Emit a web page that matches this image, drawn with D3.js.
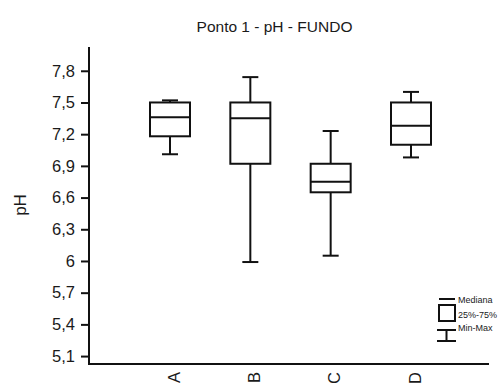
<!DOCTYPE html>
<html>
<head>
<meta charset="utf-8">
<script src="https://cdn.jsdelivr.net/npm/d3@7"></script>
<style>
  html, body { margin: 0; padding: 0; background: #fff; }
  svg { display: block; }
  text { font-family: "Liberation Sans", Arial, sans-serif; fill: #1a1a1a; }
</style>
</head>
<body>
<svg id="chart" width="500" height="383"></svg>
<script>
// Box-plot summary per sampling site (pH, bottom water)
const categories = ["A", "B", "C", "D"];
const minValues    = [7.01, 5.99, 6.05, 6.98];
const q1Values     = [7.18, 6.92, 6.65, 7.10];
const medianValues = [7.36, 7.35, 6.75, 7.28];
const q3Values     = [7.50, 7.50, 6.92, 7.50];
const maxValues    = [7.52, 7.74, 7.23, 7.60];

const yTickValues = [5.1, 5.4, 5.7, 6.0, 6.3, 6.6, 6.9, 7.2, 7.5, 7.8];
const yTickLabels = ["5,1", "5,4", "5,7", "6", "6,3", "6,6", "6,9", "7,2", "7,5", "7,8"];

const legendLabels = ["Mediana", "25%-75%", "Min-Max"];

const svg = d3.select("#chart");
const ink = "#111";

const plotLeft = 89, plotRight = 489, plotTop = 47, plotBottom = 364;

const x = d3.scalePoint().domain(categories).range([170, 411]);
const y = d3.scaleLinear().domain([5.025, 8.025]).range([plotBottom, plotTop]);

const boxW = 40, capW = 16;

// Title
svg.append("text")
  .attr("x", 274.5).attr("y", 31.5)
  .attr("text-anchor", "middle")
  .style("font-size", "15.5px")
  .text("Ponto 1 - pH - FUNDO");

// Y axis
const yAxis = d3.axisLeft(y)
  .tickValues(yTickValues)
  .tickFormat((d, i) => yTickLabels[i])
  .tickSize(8)
  .tickPadding(6)
  .tickSizeOuter(0);

const gy = svg.append("g").attr("transform", `translate(${plotLeft},0)`).call(yAxis);
gy.select(".domain").remove();
gy.selectAll(".tick line").attr("stroke", ink).attr("stroke-width", 2);
gy.selectAll(".tick text").style("font-size", "16.5px").attr("fill", "#1a1a1a");
svg.append("line")
  .attr("x1", plotLeft).attr("x2", plotLeft).attr("y1", plotTop).attr("y2", plotBottom + 1)
  .attr("stroke", ink).attr("stroke-width", 2);

// X axis
const xAxis = d3.axisBottom(x).tickSize(0).tickPadding(0);
const gx = svg.append("g").attr("transform", `translate(0,${plotBottom})`).call(xAxis);
gx.select(".domain").remove();
gx.selectAll(".tick text")
  .attr("transform", "rotate(-90)")
  .attr("text-anchor", "end")
  .attr("x", -8)
  .attr("y", 0)
  .attr("dy", "0.55em")
  .style("font-size", "16.5px");
svg.append("line")
  .attr("x1", plotLeft).attr("x2", plotRight).attr("y1", plotBottom).attr("y2", plotBottom)
  .attr("stroke", ink).attr("stroke-width", 2);

// Y axis title
svg.append("text")
  .attr("transform", `translate(26,205) rotate(-90)`)
  .attr("text-anchor", "middle")
  .style("font-size", "17px")
  .text("pH");

// Boxes
const stats = categories.map((c, i) => ({
  cat: c, min: minValues[i], q1: q1Values[i], med: medianValues[i],
  q3: q3Values[i], max: maxValues[i]
}));

const boxes = svg.append("g").selectAll("g").data(stats).join("g")
  .attr("transform", d => `translate(${x(d.cat)},0)`)
  .attr("stroke", ink).attr("stroke-width", 2).attr("fill", "none");

// upper whisker
boxes.append("line").attr("x1", 0).attr("x2", 0)
  .attr("y1", d => y(d.q3)).attr("y2", d => y(d.max));
boxes.append("line").attr("x1", -capW / 2).attr("x2", capW / 2)
  .attr("y1", d => y(d.max)).attr("y2", d => y(d.max));
// lower whisker
boxes.append("line").attr("x1", 0).attr("x2", 0)
  .attr("y1", d => y(d.q1)).attr("y2", d => y(d.min));
boxes.append("line").attr("x1", -capW / 2).attr("x2", capW / 2)
  .attr("y1", d => y(d.min)).attr("y2", d => y(d.min));
// box
boxes.append("rect")
  .attr("x", -boxW / 2).attr("width", boxW)
  .attr("y", d => y(d.q3)).attr("height", d => y(d.q1) - y(d.q3))
  .attr("fill", "#fff");
// median
boxes.append("line").attr("x1", -boxW / 2).attr("x2", boxW / 2)
  .attr("y1", d => y(d.med)).attr("y2", d => y(d.med));

// Legend
const lg = svg.append("g").attr("stroke", ink).attr("stroke-width", 2).attr("fill", "none");
lg.append("line").attr("x1", 439).attr("x2", 455).attr("y1", 299).attr("y2", 299);
lg.append("rect").attr("x", 439).attr("y", 305).attr("width", 16).attr("height", 16);
lg.append("line").attr("x1", 437).attr("x2", 456).attr("y1", 330).attr("y2", 330);
lg.append("line").attr("x1", 446.5).attr("x2", 446.5).attr("y1", 330).attr("y2", 341);
lg.append("line").attr("x1", 437).attr("x2", 456).attr("y1", 341).attr("y2", 341);

const legendY = [299.5, 315, 328];
svg.append("g").selectAll("text").data(legendLabels).join("text")
  .attr("x", 458).attr("y", (d, i) => legendY[i])
  .attr("dy", "0.35em")
  .style("font-size", "9px")
  .attr("fill", "#444")
  .text(d => d);
</script>
</body>
</html>
